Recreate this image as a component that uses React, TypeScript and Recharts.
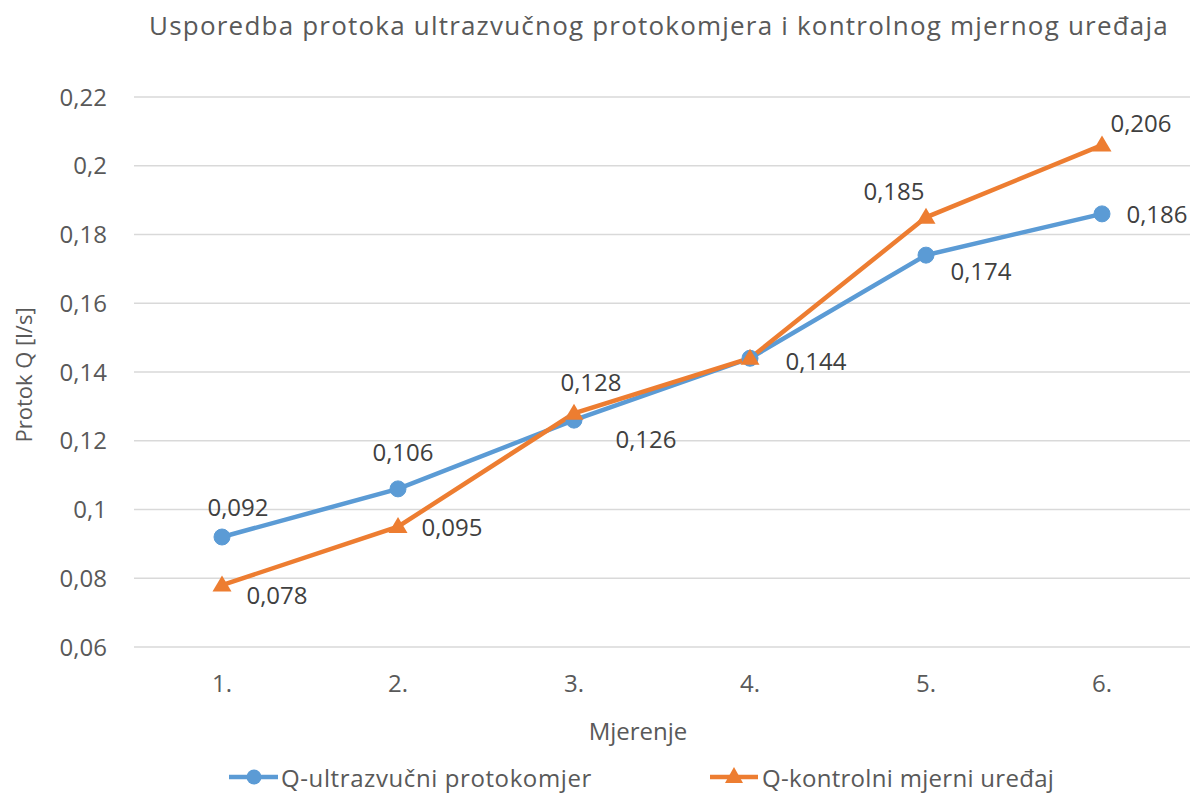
import React from 'react';
import { LineChart, Line, XAxis, YAxis, CartesianGrid, LabelList } from 'recharts';

const categories = ['1.', '2.', '3.', '4.', '5.', '6.'];
const ultrazvucni = [0.092, 0.106, 0.126, 0.144, 0.174, 0.186];
const kontrolni = [0.078, 0.095, 0.128, 0.144, 0.185, 0.206];
const yTicks = [0.06, 0.08, 0.1, 0.12, 0.14, 0.16, 0.18, 0.2, 0.22];

const titleText = 'Usporedba protoka ultrazvučnog protokomjera i kontrolnog mjernog uređaja';
const xAxisTitle = 'Mjerenje';
const yAxisTitle = 'Protok Q [l/s]';
const seriesNames = ['Q-ultrazvučni protokomjer', 'Q-kontrolni mjerni uređaj'];

// label placement (text centre relative to the point), styling only
const blueLabelOffsets: ([number, number] | null)[] = [[16, -31], [5, -37], [72, 18], [66, 2], [55, 15], [55, 0]];
const orangeLabelOffsets: ([number, number] | null)[] = [[55, 9], [54, 0], [17, -32], null, [-32, -27], [39, -23]];

const data = categories.map((c, i) => ({ name: c, u: ultrazvucni[i], k: kontrolni[i] }));

const BLUE = '#5B9BD5';
const ORANGE = '#ED7D31';
const FONT = '"Open Sans", sans-serif';
const AXIS_COLOR = '#595959';
const LABEL_COLOR = '#404040';

const fmt = (v: number) => String(v).replace('.', ',');

const makeLabel = (offsets: ([number, number] | null)[]) => (props: any) => {
  const { x, y, value, index } = props;
  const off = offsets[index];
  if (!off) return null;
  return (
    <text
      x={x + off[0]}
      y={y + off[1]}
      textAnchor="middle"
      dominantBaseline="central"
      fontFamily={FONT}
      fontSize={24}
      fill={LABEL_COLOR}
    >
      {fmt(value)}
    </text>
  );
};

const TriangleDot = (props: any) => {
  const { cx, cy, index } = props;
  if (cx == null || cy == null) return null;
  const w = 9.5;
  const h = 16;
  return (
    <polygon
      key={`tri-${index}`}
      points={`${cx},${cy - h * 0.6} ${cx + w},${cy + h * 0.4} ${cx - w},${cy + h * 0.4}`}
      fill={ORANGE}
    />
  );
};

export default function App() {
  return (
    <div style={{ position: 'absolute', left: 0, top: 0, width: 1197, height: 793, background: '#fff' }}>
      <LineChart width={1197} height={793} data={data} margin={{ top: 97, right: 7, left: 0, bottom: 106 }}>
        <CartesianGrid vertical={false} stroke="#D9D9D9" strokeWidth={1.3} />
        <XAxis
          dataKey="name"
          axisLine={false}
          tickLine={false}
          padding={{ left: 88, right: 88 }}
          height={40}
          tickMargin={22}
          tick={{ fill: AXIS_COLOR, fontSize: 24, fontFamily: FONT }}
        />
        <YAxis
          domain={[0.06, 0.22]}
          ticks={yTicks}
          width={134}
          axisLine={false}
          tickLine={false}
          tickMargin={21}
          tickFormatter={fmt}
          tick={{ fill: AXIS_COLOR, fontSize: 24, fontFamily: FONT }}
        />
        <Line
          type="linear"
          dataKey="u"
          name={seriesNames[0]}
          stroke={BLUE}
          strokeWidth={4.5}
          dot={{ r: 8, fill: BLUE, stroke: BLUE, strokeWidth: 1 }}
          isAnimationActive={false}
        >
          <LabelList dataKey="u" content={makeLabel(blueLabelOffsets)} />
        </Line>
        <Line
          type="linear"
          dataKey="k"
          name={seriesNames[1]}
          stroke={ORANGE}
          strokeWidth={4.5}
          dot={<TriangleDot />}
          isAnimationActive={false}
        >
          <LabelList dataKey="k" content={makeLabel(orangeLabelOffsets)} />
        </Line>
      </LineChart>
      <svg
        width={1197}
        height={793}
        style={{ position: 'absolute', left: 0, top: 0, pointerEvents: 'none' }}
        fontFamily={FONT}
      >
        <text x={659} y={35} textAnchor="middle" fontSize={26} letterSpacing={1.2} fill={AXIS_COLOR}>
          {titleText}
        </text>
        <text
          x={23}
          y={375}
          textAnchor="middle"
          dominantBaseline="central"
          fontSize={22}
          fill={AXIS_COLOR}
          transform="rotate(-90 23 375)"
        >
          {yAxisTitle}
        </text>
        <text x={638} y={730} textAnchor="middle" dominantBaseline="central" fontSize={24} fill={AXIS_COLOR}>
          {xAxisTitle}
        </text>
        <line x1={229} y1={777} x2={278} y2={777} stroke={BLUE} strokeWidth={4.5} />
        <circle cx={254} cy={777} r={7.5} fill={BLUE} />
        <text x={281} y={777} dominantBaseline="central" fontSize={24} letterSpacing={0.6} fill={AXIS_COLOR}>
          {seriesNames[0]}
        </text>
        <line x1={710} y1={777} x2={758} y2={777} stroke={ORANGE} strokeWidth={4.5} />
        <polygon points="734,767 743,783 725,783" fill={ORANGE} />
        <text x={762} y={777} dominantBaseline="central" fontSize={24} letterSpacing={0.3} fill={AXIS_COLOR}>
          {seriesNames[1]}
        </text>
      </svg>
    </div>
  );
}
